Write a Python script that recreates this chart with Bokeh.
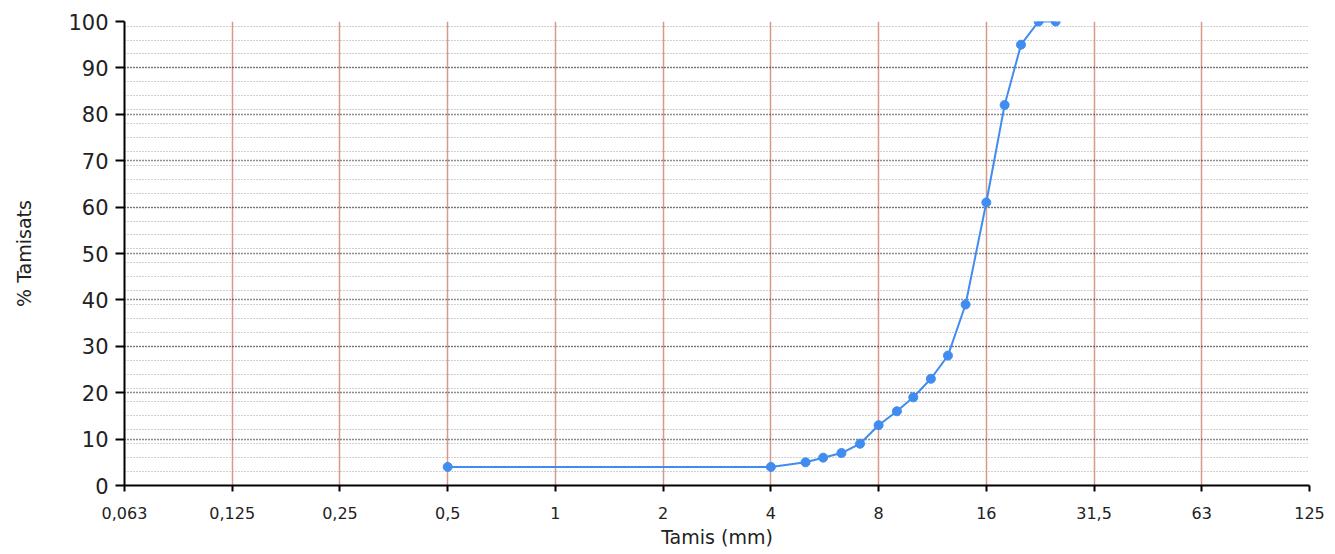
from bokeh.plotting import figure
from bokeh.models import Range1d, FixedTicker, CustomJSTickFormatter, Grid, ColumnDataSource
from bokeh.embed import file_html
from bokeh.resources import INLINE

# Data
sieves = [0.5, 4, 5, 5.6, 6.3, 7.1, 8, 9, 10, 11.2, 12.5, 14, 16, 18, 20, 22.4, 25]
passing = [4, 4, 5, 6, 7, 9, 13, 16, 19, 23, 28, 39, 61, 82, 95, 100, 100]

x_tick_values = [0.0625, 0.125, 0.25, 0.5, 1, 2, 4, 8, 16, 32, 64, 128]
x_tick_labels = ["0,063", "0,125", "0,25", "0,5", "1", "2", "4", "8", "16", "31,5", "63", "125"]
y_major_ticks = list(range(0, 101, 10))
y_minor_ticks = list(range(0, 100, 3))

FONT = "DejaVu Sans"

p = figure(width=1335, height=554, x_axis_type="log",
           x_range=Range1d(0.0625, 128), y_range=Range1d(0, 100),
           output_backend="svg", toolbar_location=None,
           min_border_left=124, min_border_right=26, min_border_top=21, min_border_bottom=69)
p.outline_line_color = None
p.background_fill_color = "white"

# grids
p.xgrid.ticker = FixedTicker(ticks=x_tick_values)
p.xgrid.grid_line_color = "#D9988A"
p.xgrid.grid_line_width = 1.5
p.ygrid.visible = False

minor_grid = Grid(dimension=1, ticker=FixedTicker(ticks=y_minor_ticks),
                  grid_line_color="#A0A0A0", grid_line_dash="1 2", grid_line_width=1)
major_grid = Grid(dimension=1, ticker=FixedTicker(ticks=y_major_ticks),
                  grid_line_color="#1A1A1A", grid_line_dash="1 2", grid_line_width=1.4)
p.add_layout(minor_grid)
p.add_layout(major_grid)

# x axis
xa = p.xaxis[0]
xa.ticker = FixedTicker(ticks=x_tick_values)
xa.formatter = CustomJSTickFormatter(args=dict(vals=x_tick_values, labels=x_tick_labels), code="""
for (let i = 0; i < vals.length; i++) {
  if (Math.abs(Math.log2(vals[i]) - Math.log2(tick)) < 0.01) return labels[i];
}
return "";
""")
xa.axis_label = "Tamis (mm)"
xa.axis_label_text_font = FONT
xa.axis_label_text_font_style = "normal"
xa.axis_label_text_font_size = "19px"
xa.axis_label_text_color = "#222222"
xa.axis_label_standoff = 4
xa.major_label_text_font = FONT
xa.major_label_text_font_size = "16px"
xa.major_label_text_color = "#222222"
xa.major_label_standoff = 15
xa.major_tick_out = 6
xa.major_tick_in = 0
xa.minor_tick_out = 0
xa.minor_tick_in = 0
xa.axis_line_color = "black"
xa.axis_line_width = 2
xa.major_tick_line_width = 2

# y axis
ya = p.yaxis[0]
ya.ticker = FixedTicker(ticks=y_major_ticks)
ya.axis_label = "% Tamisats"
ya.axis_label_text_font = FONT
ya.axis_label_text_font_style = "normal"
ya.axis_label_text_font_size = "19px"
ya.axis_label_text_color = "#222222"
ya.axis_label_standoff = 30
ya.major_label_text_font = FONT
ya.major_label_text_font_size = "21px"
ya.major_label_text_color = "#222222"
ya.major_label_standoff = 7
ya.major_tick_out = 9
ya.major_tick_in = 0
ya.minor_tick_out = 0
ya.minor_tick_in = 0
ya.axis_line_color = "black"
ya.axis_line_width = 2
ya.major_tick_line_width = 2

src = ColumnDataSource(data=dict(x=sieves, y=passing))
p.line("x", "y", source=src, line_color="#418CF0", line_width=2)
p.scatter("x", "y", source=src, size=9, fill_color="#418CF0", line_color="#418CF0")

open("out.html", "w").write(file_html(p, INLINE))
